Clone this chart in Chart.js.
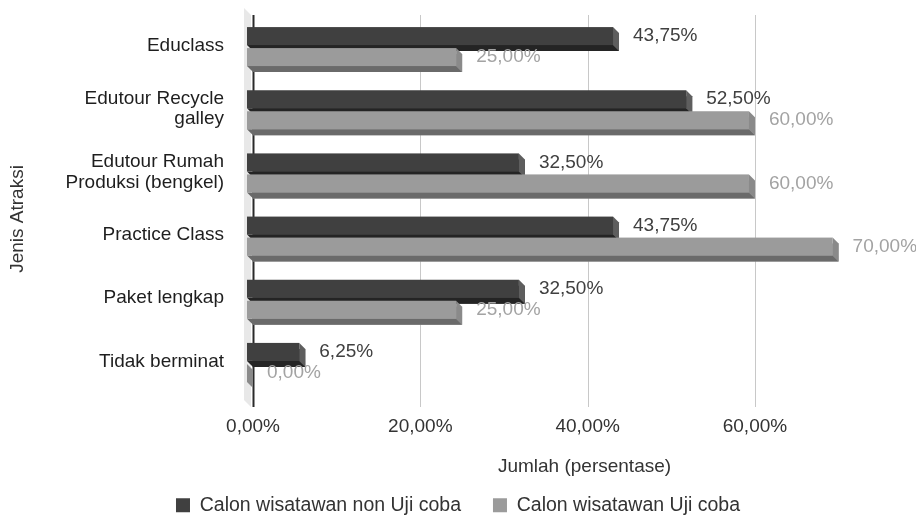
<!DOCTYPE html>
<html>
<head>
<meta charset="utf-8">
<script src="https://cdn.jsdelivr.net/npm/chart.js@4/dist/chart.umd.min.js"></script>
<style>
  html, body { margin: 0; padding: 0; background: #fff; }
  #wrap { width: 916px; height: 516px; position: relative; }
</style>
</head>
<body>
<div id="wrap"><canvas id="c"></canvas></div>
<script>
const categories = [
  ["Educlass"],
  ["Edutour Recycle", "galley"],
  ["Edutour Rumah", "Produksi (bengkel)"],
  ["Practice Class"],
  ["Paket lengkap"],
  ["Tidak berminat"]
];
const seriesNames = ["Calon wisatawan non Uji coba", "Calon wisatawan Uji coba"];
const nonUjiCoba = [43.75, 52.50, 32.50, 43.75, 32.50, 6.25];
const ujiCoba = [25.00, 60.00, 60.00, 70.00, 25.00, 0.00];
const xTickValues = [0, 20, 40, 60];
const xAxisTitle = "Jumlah (persentase)";
const yAxisTitle = "Jenis Atraksi";

const FONT = "'Liberation Sans', Arial, sans-serif";
const DEPTH = 6;
const palette = [
  { front: "#404040", right: "#5e5e5e", bottom: "#242424", label: "#404040" },
  { front: "#9b9b9b", right: "#8a8a8a", bottom: "#6a6a6a", label: "#a3a3a3" }
];
const fmt = v => v.toFixed(2).replace(".", ",") + "%";

const threeD = {
  id: "threeD",
  beforeDatasetsDraw(chart) {
    const ctx = chart.ctx, a = chart.chartArea, xs = chart.scales.x;
    const L = xs.getPixelForValue(0);
    ctx.save();
    ctx.fillStyle = "#e8e8e8";
    ctx.beginPath();
    ctx.moveTo(L - 9, a.top - 13);
    ctx.lineTo(L - 2, a.top - 6);
    ctx.lineTo(L - 2, a.bottom + 7);
    ctx.lineTo(L - 9, a.bottom);
    ctx.closePath();
    ctx.fill();
    xTickValues.forEach(v => {
      const px = Math.round(xs.getPixelForValue(v)) + 0.5;
      ctx.beginPath();
      ctx.moveTo(px, a.top - 6);
      ctx.lineTo(px, a.bottom + 7);
      if (v === 0) { ctx.strokeStyle = "#2a2a2a"; ctx.lineWidth = 2; }
      else { ctx.strokeStyle = "#c8c8c8"; ctx.lineWidth = 1; }
      ctx.stroke();
    });
    ctx.restore();
  },
  afterDatasetsDraw(chart) {
    const ctx = chart.ctx, d = DEPTH;
    const metas = chart.data.datasets.map((_, i) => chart.getDatasetMeta(i));
    ctx.save();
    for (let j = 0; j < categories.length; j++) {
      metas.forEach((meta, i) => {
        const el = meta.data[j];
        const p = el.getProps(["x", "y", "base", "height"], true);
        const c = palette[i];
        const top = p.y - p.height / 2, bot = p.y + p.height / 2;
        const x0 = Math.min(p.base, p.x), x1 = Math.max(p.base, p.x);
        ctx.fillStyle = c.bottom;
        ctx.beginPath();
        ctx.moveTo(x0 - d, bot - d);
        ctx.lineTo(x1 - d, bot - d);
        ctx.lineTo(x1, bot);
        ctx.lineTo(x0, bot);
        ctx.closePath();
        ctx.fill();
        ctx.fillStyle = c.right;
        ctx.beginPath();
        ctx.moveTo(x1 - d, top - d);
        ctx.lineTo(x1, top);
        ctx.lineTo(x1, bot);
        ctx.lineTo(x1 - d, bot - d);
        ctx.closePath();
        ctx.fill();
        ctx.fillStyle = c.front;
        ctx.fillRect(x0 - d, top - d, x1 - x0, p.height);
      });
    }
    ctx.font = "19px " + FONT;
    ctx.textAlign = "left";
    ctx.textBaseline = "middle";
    metas.forEach((meta, i) => {
      const vals = chart.data.datasets[i].data;
      meta.data.forEach((el, j) => {
        const p = el.getProps(["x", "y"], true);
        ctx.fillStyle = palette[i].label;
        ctx.fillText(fmt(vals[j]), p.x + 14, p.y - d);
      });
    });
    ctx.restore();
  },
  afterDraw(chart) {
    const ctx = chart.ctx, a = chart.chartArea;
    ctx.save();
    ctx.font = "19px " + FONT;
    ctx.fillStyle = "#333";
    ctx.textAlign = "center";
    ctx.textBaseline = "middle";
    ctx.fillText(xAxisTitle, (a.left + a.right) / 2, 467);
    ctx.translate(18, 219);
    ctx.rotate(-Math.PI / 2);
    ctx.fillText(yAxisTitle, 0, 0);
    ctx.restore();
  }
};

new Chart(document.getElementById("c"), {
  type: "bar",
  data: {
    labels: categories,
    datasets: [
      { label: seriesNames[0], data: nonUjiCoba, backgroundColor: palette[0].front, borderWidth: 0 },
      { label: seriesNames[1], data: ujiCoba, backgroundColor: palette[1].front, borderWidth: 0 }
    ]
  },
  options: {
    indexAxis: "y",
    responsive: true,
    maintainAspectRatio: false,
    animation: false,
    categoryPercentage: 0.665,
    barPercentage: 0.857,
    layout: { padding: { top: 21, right: 0, left: 0, bottom: 0 } },
    plugins: {
      tooltip: { enabled: false },
      legend: {
        position: "bottom",
        maxHeight: 52.5,
        labels: {
          font: { family: FONT, size: 19.5 },
          color: "#333",
          boxWidth: 14,
          boxHeight: 14,
          padding: 32
        }
      }
    },
    scales: {
      x: {
        min: 0,
        max: 79.25,
        afterBuildTicks: s => { s.ticks = xTickValues.map(v => ({ value: v })); },
        afterFit: s => { s.height = 63.5; s.paddingLeft = 0; s.paddingRight = 0; },
        grid: { display: false },
        border: { display: false },
        ticks: {
          font: { family: FONT, size: 19 },
          color: "#333",
          padding: 7,
          callback: v => fmt(v)
        }
      },
      y: {
        grid: { display: false },
        border: { display: false },
        afterFit: s => { s.width = 253; s.paddingTop = 0; s.paddingBottom = 0; },
        ticks: {
          font: { family: FONT, size: 19, lineHeight: 1.1 },
          color: "#1e1e1e",
          padding: 21,
          labelOffset: -7
        }
      }
    }
  },
  plugins: [threeD]
});
</script>
</body>
</html>
